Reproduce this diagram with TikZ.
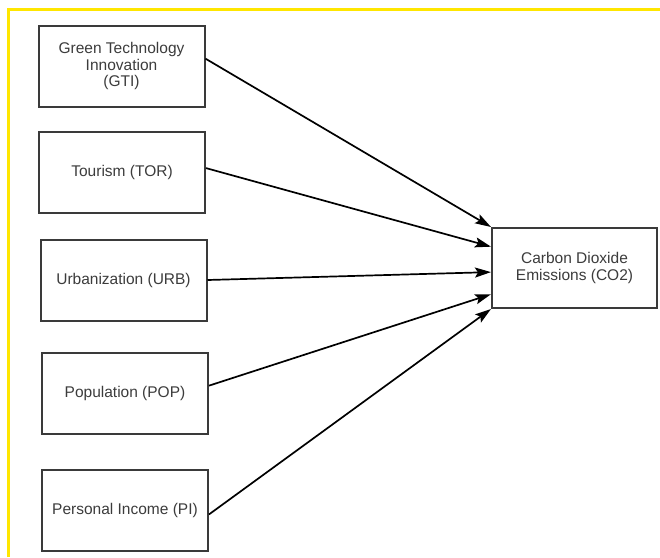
\documentclass[tikz,border=0pt]{standalone}
\usepackage{fontspec}
\setmainfont{Liberation Sans}
\usetikzlibrary{arrows.meta, positioning, calc}
\definecolor{framegold}{HTML}{FFE600}
\definecolor{boxgray}{HTML}{3A3A3A}
\definecolor{txtgray}{HTML}{3C3C3C}

\begin{document}
\begin{tikzpicture}[
  x=1pt, y=-1pt,
  >={Stealth[length=16pt, width=10pt, inset=3pt]},
  varbox/.style={
    draw=boxgray, line width=2pt, fill=white,
    minimum width=166pt, minimum height=81pt,
    font=\fontsize{15.5}{16.5}\selectfont,
    text=txtgray, align=center, inner sep=3pt
  },
  arr/.style={->, line width=1.7pt, black},
]

% Canvas
\useasboundingbox (0,0) rectangle (660,557);
\draw[framegold, line width=3pt] (8,557) -- (8,9) -- (660,9);

% =============================================
% Explanatory variables
% =============================================
\node[varbox] (gti) at (121.5,66)
  {Green Technology\\Innovation\\(GTI)};

\node[varbox] (tor) at (122,172.5)
  {Tourism (TOR)};

\node[varbox] (urb) at (123.5,280)
  {Urbanization (URB)};

\node[varbox] (pop) at (125,393)
  {Population (POP)};

\node[varbox] (pi) at (125,510)
  {Personal Income (PI)};

% =============================================
% Dependent variable
% =============================================
\node[varbox, minimum width=165pt, minimum height=80pt] (co2) at (574.5,268)
  {Carbon Dioxide\\Emissions (CO2)};

% Arrows into CO2
\draw[arr] (gti.5) -- ($(co2.north west)!0.00!(co2.south west)$);
\draw[arr] (tor.3) -- ($(co2.north west)!0.24!(co2.south west)$);
\draw[arr] (urb.east) -- ($(co2.north west)!0.55!(co2.south west)$);
\draw[arr] (pop.5) -- ($(co2.north west)!0.82!(co2.south west)$);
\draw[arr] (pi.-3) -- ($(co2.north west)!1.00!(co2.south west)$);

\end{tikzpicture}
\end{document}
